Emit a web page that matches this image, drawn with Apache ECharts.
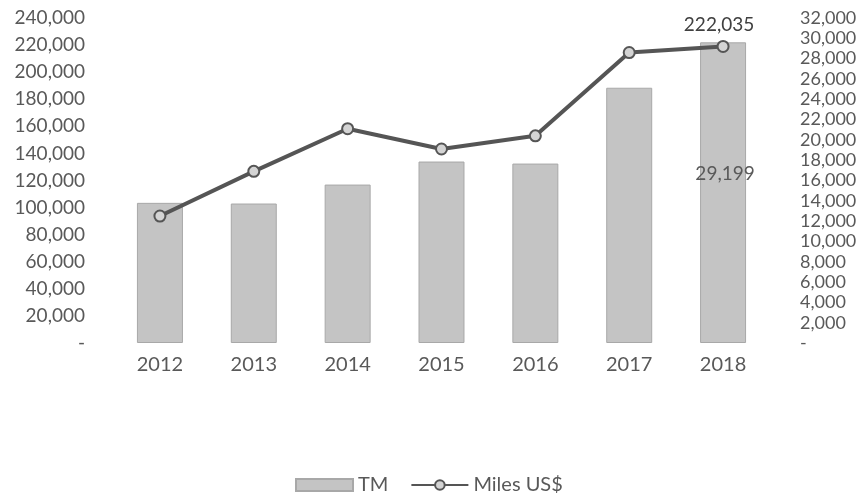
<!DOCTYPE html>
<html>
<head>
<meta charset="utf-8">
<script src="https://cdn.jsdelivr.net/npm/echarts@6/dist/echarts.min.js"></script>
<style>html,body{margin:0;padding:0;background:#fff}#c{width:868px;height:495px}</style>
</head>
<body>
<div id="c"></div>
<script>
const years = ['2012','2013','2014','2015','2016','2017','2018'];
const tm = [103500, 103000, 117000, 134000, 132500, 188500, 222035];
const milesUS = [12500, 16900, 21100, 19100, 20400, 28600, 29199];
const leftTicks = {min: 0, max: 240000, interval: 20000};
const rightTicks = {min: 0, max: 32000, interval: 2000};

const fmt = v => v === 0 ? '-' : v.toLocaleString('en-US');
const last = years.length - 1;
const font = 'Lato';
const chart = echarts.init(document.getElementById('c'));
chart.setOption({
  backgroundColor: '#fff',
  animation: false,
  textStyle: {fontFamily: font},
  grid: {left: 113, right: 98, top: 18, bottom: 152},
  legend: {
    top: 470, left: 290, itemGap: 22, itemWidth: 57, itemHeight: 12,
    textStyle: {fontSize: 20, color: '#595959', fontFamily: font},
    data: [{name: 'TM', icon: 'rect'}, {name: 'Miles US$'}]
  },
  xAxis: {
    type: 'category', data: years,
    axisLine: {show: false}, axisTick: {show: false},
    axisLabel: {fontSize: 20, color: '#595959', margin: 12}
  },
  yAxis: [
    {type: 'value', min: leftTicks.min, max: leftTicks.max, interval: leftTicks.interval,
     splitLine: {show: false}, axisLine: {show: false}, axisTick: {show: false},
     axisLabel: {formatter: fmt, fontSize: 19, color: '#595959', margin: 28}},
    {type: 'value', min: rightTicks.min, max: rightTicks.max, interval: rightTicks.interval,
     splitLine: {show: false}, axisLine: {show: false}, axisTick: {show: false},
     axisLabel: {formatter: fmt, fontSize: 18, color: '#595959', margin: 30}}
  ],
  series: [
    {name: 'TM', type: 'bar', yAxisIndex: 0, barWidth: '49%',
     itemStyle: {color: '#c4c4c4', borderColor: '#a8a8a8', borderWidth: 1},
     data: tm.map((v, i) => i === last ? {value: v, label: {show: true, position: 'top', offset: [-4, -3], formatter: p => fmt(p.value), fontSize: 19, color: '#404040'}} : v)},
    {name: 'Miles US$', type: 'line', yAxisIndex: 1, symbol: 'circle', symbolSize: 11,
     lineStyle: {color: '#555555', width: 4},
     itemStyle: {color: '#d4d4d4', borderColor: '#555555', borderWidth: 2},
     data: milesUS.map((v, i) => i === last ? {value: v, label: {show: true, position: 'inside', offset: [2, 127], formatter: p => fmt(p.value), fontSize: 19, color: '#595959'}} : v)}
  ]
});
</script>
</body>
</html>
